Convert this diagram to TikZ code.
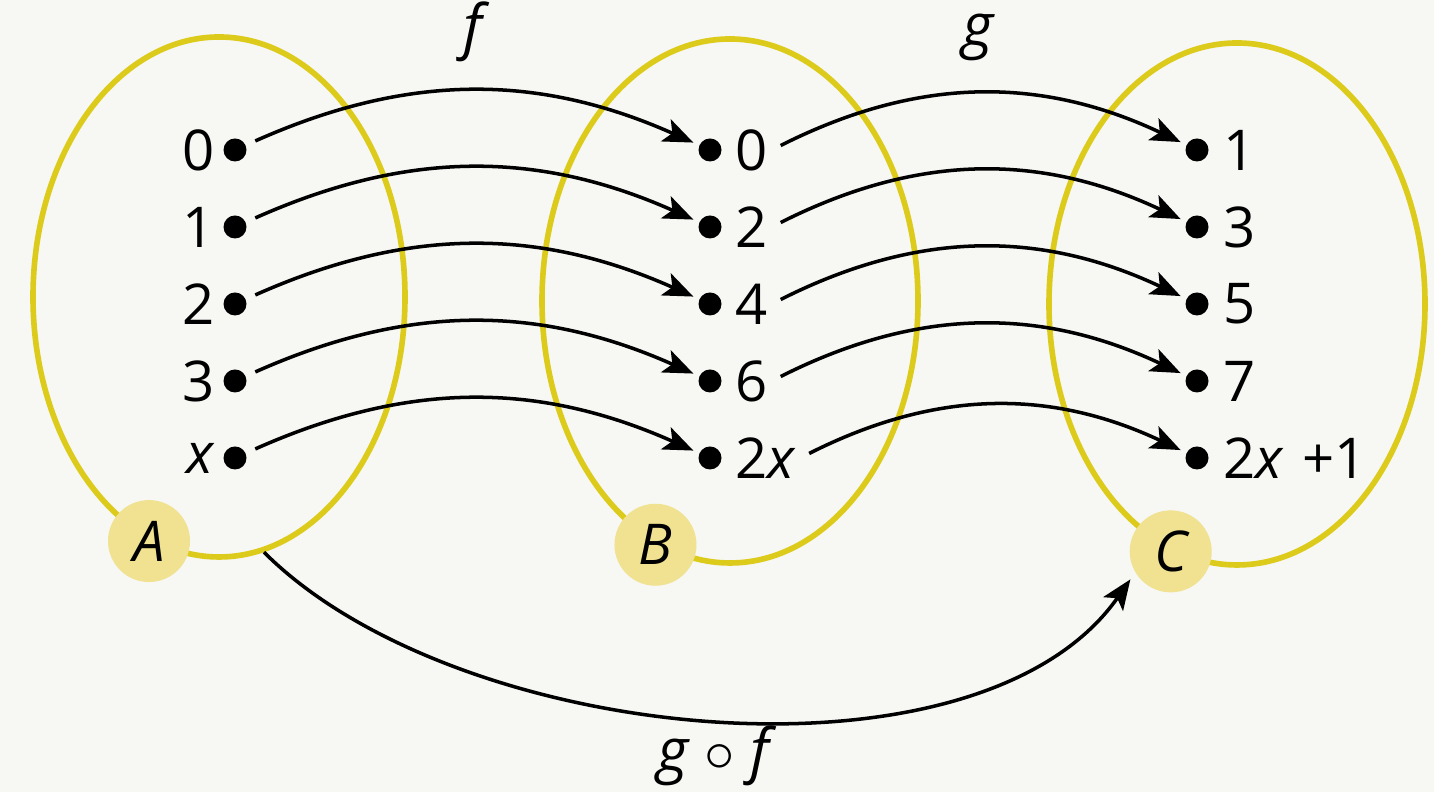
\documentclass[tikz,border=0pt]{standalone}
\usepackage{fontspec}
\setmainfont{Open Sans}
\usetikzlibrary{arrows.meta,positioning,shapes.geometric}
\definecolor{setyellow}{HTML}{DDCB1C}
\definecolor{tagyellow}{HTML}{F0E290}
\definecolor{paper}{HTML}{F7F7F4}
\tikzset{
  setring/.style={ellipse,draw=setyellow,line width=1.6pt,inner sep=0pt},
  settag/.style={circle,fill=tagyellow,minimum size=0.82cm,inner sep=0pt,font=\fontsize{16}{19}\selectfont\itshape},
  elem/.style={circle,fill=black,minimum size=0.23cm,inner sep=0pt},
  elemtxt/.style={inner sep=1pt,font=\fontsize{16}{19}\selectfont},
  maparrow/.style={-{Stealth[length=3mm,width=2.4mm,inset=0.7mm]},line width=1pt,shorten <=1mm,shorten >=0.6mm},
  funlabel/.style={font=\fontsize{17}{20}\selectfont\itshape}
}

\begin{document}
\begin{tikzpicture}
  \fill[paper] (0,0) rectangle (14.34,7.92);
  \useasboundingbox (0,0) rectangle (14.34,7.92);
  % the three sets
  \node[setring,minimum width=3.72cm,minimum height=5.2cm] (setA) at (2.19,4.95) {};
  \node[setring,minimum width=3.76cm,minimum height=5.24cm] (setB) at (7.30,4.91) {};
  \node[setring,minimum width=3.76cm,minimum height=5.22cm] (setC) at (12.37,4.88) {};
  \node[settag] (tagA) at (setA.254) {A};
  \node[settag] (tagB) at (setB.253) {B};
  \node[settag] (tagC) at (setC.255) {C};

  % elements of A
  \node[elem] (a0) at (2.35,6.42) {};
  \node[elem] (a1) at (2.35,5.65) {};
  \node[elem] (a2) at (2.35,4.88) {};
  \node[elem] (a3) at (2.35,4.11) {};
  \node[elem] (ax) at (2.35,3.34) {};
  \node[elemtxt,left=0.4mm of a0] (ta0) {0};
  \node[elemtxt,left=0.4mm of a1] (ta1) {1};
  \node[elemtxt,left=0.4mm of a2] (ta2) {2};
  \node[elemtxt,left=0.4mm of a3] (ta3) {3};
  \node[elemtxt,left=0.4mm of ax] (tax) {\textit{x}};

  % elements of B
  \node[elem] (b0) at (7.10,6.42) {};
  \node[elem] (b2) at (7.10,5.65) {};
  \node[elem] (b4) at (7.10,4.88) {};
  \node[elem] (b6) at (7.10,4.11) {};
  \node[elem] (bx) at (7.10,3.34) {};
  \node[elemtxt,right=0.9mm of b0] (tb0) {0};
  \node[elemtxt,right=0.9mm of b2] (tb2) {2};
  \node[elemtxt,right=0.9mm of b4] (tb4) {4};
  \node[elemtxt,right=0.9mm of b6] (tb6) {6};
  \node[elemtxt,right=0.9mm of bx] (tbx) {2\textit{x}};

  % elements of C
  \node[elem] (c1) at (11.97,6.42) {};
  \node[elem] (c3) at (11.97,5.65) {};
  \node[elem] (c5) at (11.97,4.88) {};
  \node[elem] (c7) at (11.97,4.11) {};
  \node[elem] (cx) at (11.97,3.34) {};
  \node[elemtxt,right=1mm of c1] (tc1) {1};
  \node[elemtxt,right=1mm of c3] (tc3) {3};
  \node[elemtxt,right=1mm of c5] (tc5) {5};
  \node[elemtxt,right=1mm of c7] (tc7) {7};
  \node[elemtxt,right=1mm of cx] (tcx) {2\textit{x}\,\,+1};

  % f : A -> B
  \draw[maparrow] (a0) to[bend left=24] node[funlabel,above=1.6mm] (flabel) {f} (b0);
  \draw[maparrow] (a1) to[bend left=24] (b2);
  \draw[maparrow] (a2) to[bend left=24] (b4);
  \draw[maparrow] (a3) to[bend left=24] (b6);
  \draw[maparrow] (ax) to[bend left=24] (bx);

  % g : B -> C
  \draw[maparrow] (tb0.east) to[bend left=26] node[funlabel,above=2mm] (glabel) {g} (c1);
  \draw[maparrow] (tb2.east) to[bend left=26] (c3);
  \draw[maparrow] (tb4.east) to[bend left=26] (c5);
  \draw[maparrow] (tb6.east) to[bend left=26] (c7);
  \draw[maparrow] (tbx.east) to[bend left=26] (cx);

  % g o f : A -> C
  \draw[maparrow,shorten <=0pt,shorten >=0.8mm] (setA.-80) to[out=-45,in=235,looseness=0.8]
    node[funlabel,below=-0.6mm] (gflabel) {g $\circ$ f} (tagC.211);
\end{tikzpicture}
\end{document}
